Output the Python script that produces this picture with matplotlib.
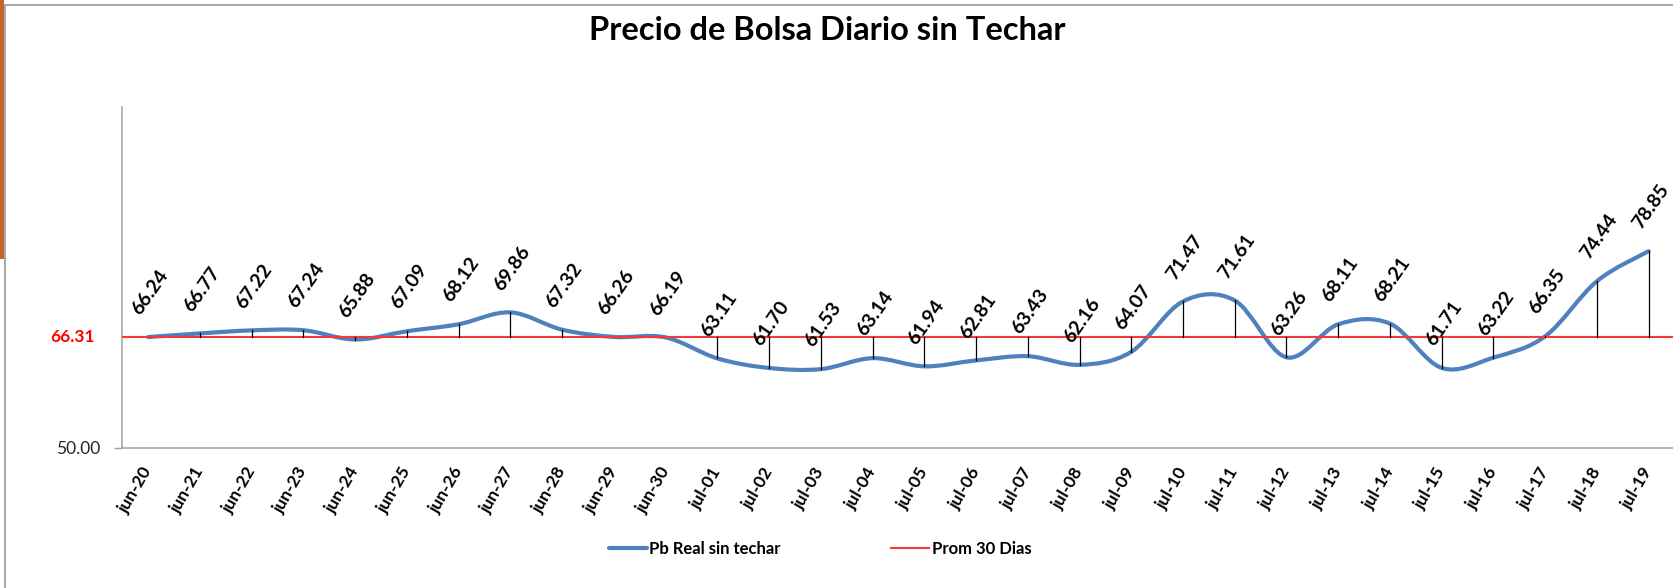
#!/usr/bin/env python3
"""Precio de Bolsa Diario sin Techar - smoothed daily price vs 30-day average."""

import matplotlib
matplotlib.use("Agg")
import matplotlib.pyplot as plt
import matplotlib.patches as patches
from matplotlib.lines import Line2D
from matplotlib.path import Path
from matplotlib.transforms import blended_transform_factory

plt.rcParams["font.family"] = ["Lato", "DejaVu Sans"]

# ---------------------------------------------------------------------------
# Data
# ---------------------------------------------------------------------------
dias = ["jun-20", "jun-21", "jun-22", "jun-23", "jun-24", "jun-25", "jun-26",
        "jun-27", "jun-28", "jun-29", "jun-30", "jul-01", "jul-02", "jul-03",
        "jul-04", "jul-05", "jul-06", "jul-07", "jul-08", "jul-09", "jul-10",
        "jul-11", "jul-12", "jul-13", "jul-14", "jul-15", "jul-16", "jul-17",
        "jul-18", "jul-19"]
precio = [66.24, 66.77, 67.22, 67.24, 65.88, 67.09, 68.12, 69.86, 67.32, 66.26,
          66.19, 63.11, 61.70, 61.53, 63.14, 61.94, 62.81, 63.43, 62.16, 64.07,
          71.47, 71.61, 63.26, 68.11, 68.21, 61.71, 63.22, 66.35, 74.44, 78.85]
promedio = 66.31

# ---------------------------------------------------------------------------
# Colors
# ---------------------------------------------------------------------------
BLUE = "#4F81BD"
RED = "#F23A3A"
AXIS = "#A0A0A0"
ORANGE = "#C8602F"


def smooth_path(xs, ys):
    """Excel-like smoothed line: cubic Bezier through every point."""
    pts = list(zip(xs, ys))
    verts = [pts[0]]
    codes = [Path.MOVETO]
    n = len(pts)
    for i in range(n - 1):
        p0 = pts[i - 1] if i > 0 else pts[i]
        p1 = pts[i]
        p2 = pts[i + 1]
        p3 = pts[i + 2] if i + 2 < n else pts[i + 1]
        c1 = (p1[0] + (p2[0] - p0[0]) / 6, p1[1] + (p2[1] - p0[1]) / 6)
        c2 = (p2[0] - (p3[0] - p1[0]) / 6, p2[1] - (p3[1] - p1[1]) / 6)
        verts += [c1, c2, p2]
        codes += [Path.CURVE4] * 3
    return Path(verts, codes)


fig = plt.figure(figsize=(16.73, 5.88), dpi=100)
fig.patch.set_facecolor("white")
ax = fig.add_axes([0.0731, 0.2386, 0.9269, 0.5794])

x = list(range(len(dias)))

# average line
ax.plot([-0.5, len(dias) - 0.5], [promedio, promedio], color=RED, lw=1.5,
        zorder=4, solid_capstyle="butt")

# smoothed price line
ax.add_patch(patches.PathPatch(smooth_path(x, precio), facecolor="none",
                               edgecolor=BLUE, lw=3.0, capstyle="round",
                               zorder=3))
blue_handle = Line2D([], [], color=BLUE, lw=3.0, solid_capstyle="round")
red_handle = Line2D([], [], color=RED, lw=1.5)

# drop lines between price and average
for xi, v in zip(x, precio):
    ax.plot([xi, xi], [min(v, promedio), max(v, promedio)], color="black",
            lw=0.9, zorder=5)

# data labels
for xi, v in zip(x, precio):
    ax.annotate(f"{v:.2f}", (xi, v), xytext=(1.5, 32),
                textcoords="offset points", ha="center", va="center",
                rotation=55, fontsize=14, fontweight="bold", color="black",
                zorder=6)

ax.set_xlim(-0.5, 29.47)
ax.set_ylim(50, 100)

ax.set_xticks(x)
ax.set_xticklabels(dias, rotation=60, ha="right", va="center",
                   rotation_mode="anchor", fontsize=12.5, fontweight="bold")
ax.tick_params(axis="x", length=0, pad=15)

ax.set_yticks([50])
ax.set_yticklabels(["50.00"], fontsize=12.5, color="#262626")
ax.tick_params(axis="y", length=6, width=1.0, color=AXIS, pad=10)

for s in ("top", "right"):
    ax.spines[s].set_visible(False)
for s in ("left", "bottom"):
    ax.spines[s].set_color(AXIS)
    ax.spines[s].set_linewidth(1.1)

# average value label next to the axis
trans = blended_transform_factory(fig.transFigure, ax.transData)
fig.text(95 / 1673, promedio, f"{promedio:.2f}", transform=trans,
         ha="right", va="center", fontsize=12.5, fontweight="bold", color="red")

# title
fig.text(827 / 1673, 1 - 30 / 588, "Precio de Bolsa Diario sin Techar",
         ha="center", va="center", fontsize=23.5, fontweight="bold")

# legend
fig.legend([blue_handle, red_handle], ["Pb Real sin techar", "Prom 30 Dias"],
           loc="center", bbox_to_anchor=(820 / 1673, 1 - 549 / 588), ncol=2,
           frameon=False, prop={"weight": "bold", "size": 12},
           handlelength=2.3, handletextpad=0.15, columnspacing=6.6)

# frame of the original screenshot
fig.add_artist(Line2D([5 / 1673, 1], [1 - 5 / 588, 1 - 5 / 588],
                      transform=fig.transFigure, color=AXIS, lw=1.3))
fig.add_artist(Line2D([5 / 1673, 5 / 1673], [0, 1 - 5 / 588],
                      transform=fig.transFigure, color=AXIS, lw=1.3))
fig.add_artist(patches.Rectangle((0, 1 - 259 / 588), 4 / 1673, 259 / 588,
                                 transform=fig.transFigure, facecolor=ORANGE,
                                 edgecolor="none"))

fig.savefig("out.png", dpi=100, facecolor=fig.get_facecolor())
plt.close(fig)
